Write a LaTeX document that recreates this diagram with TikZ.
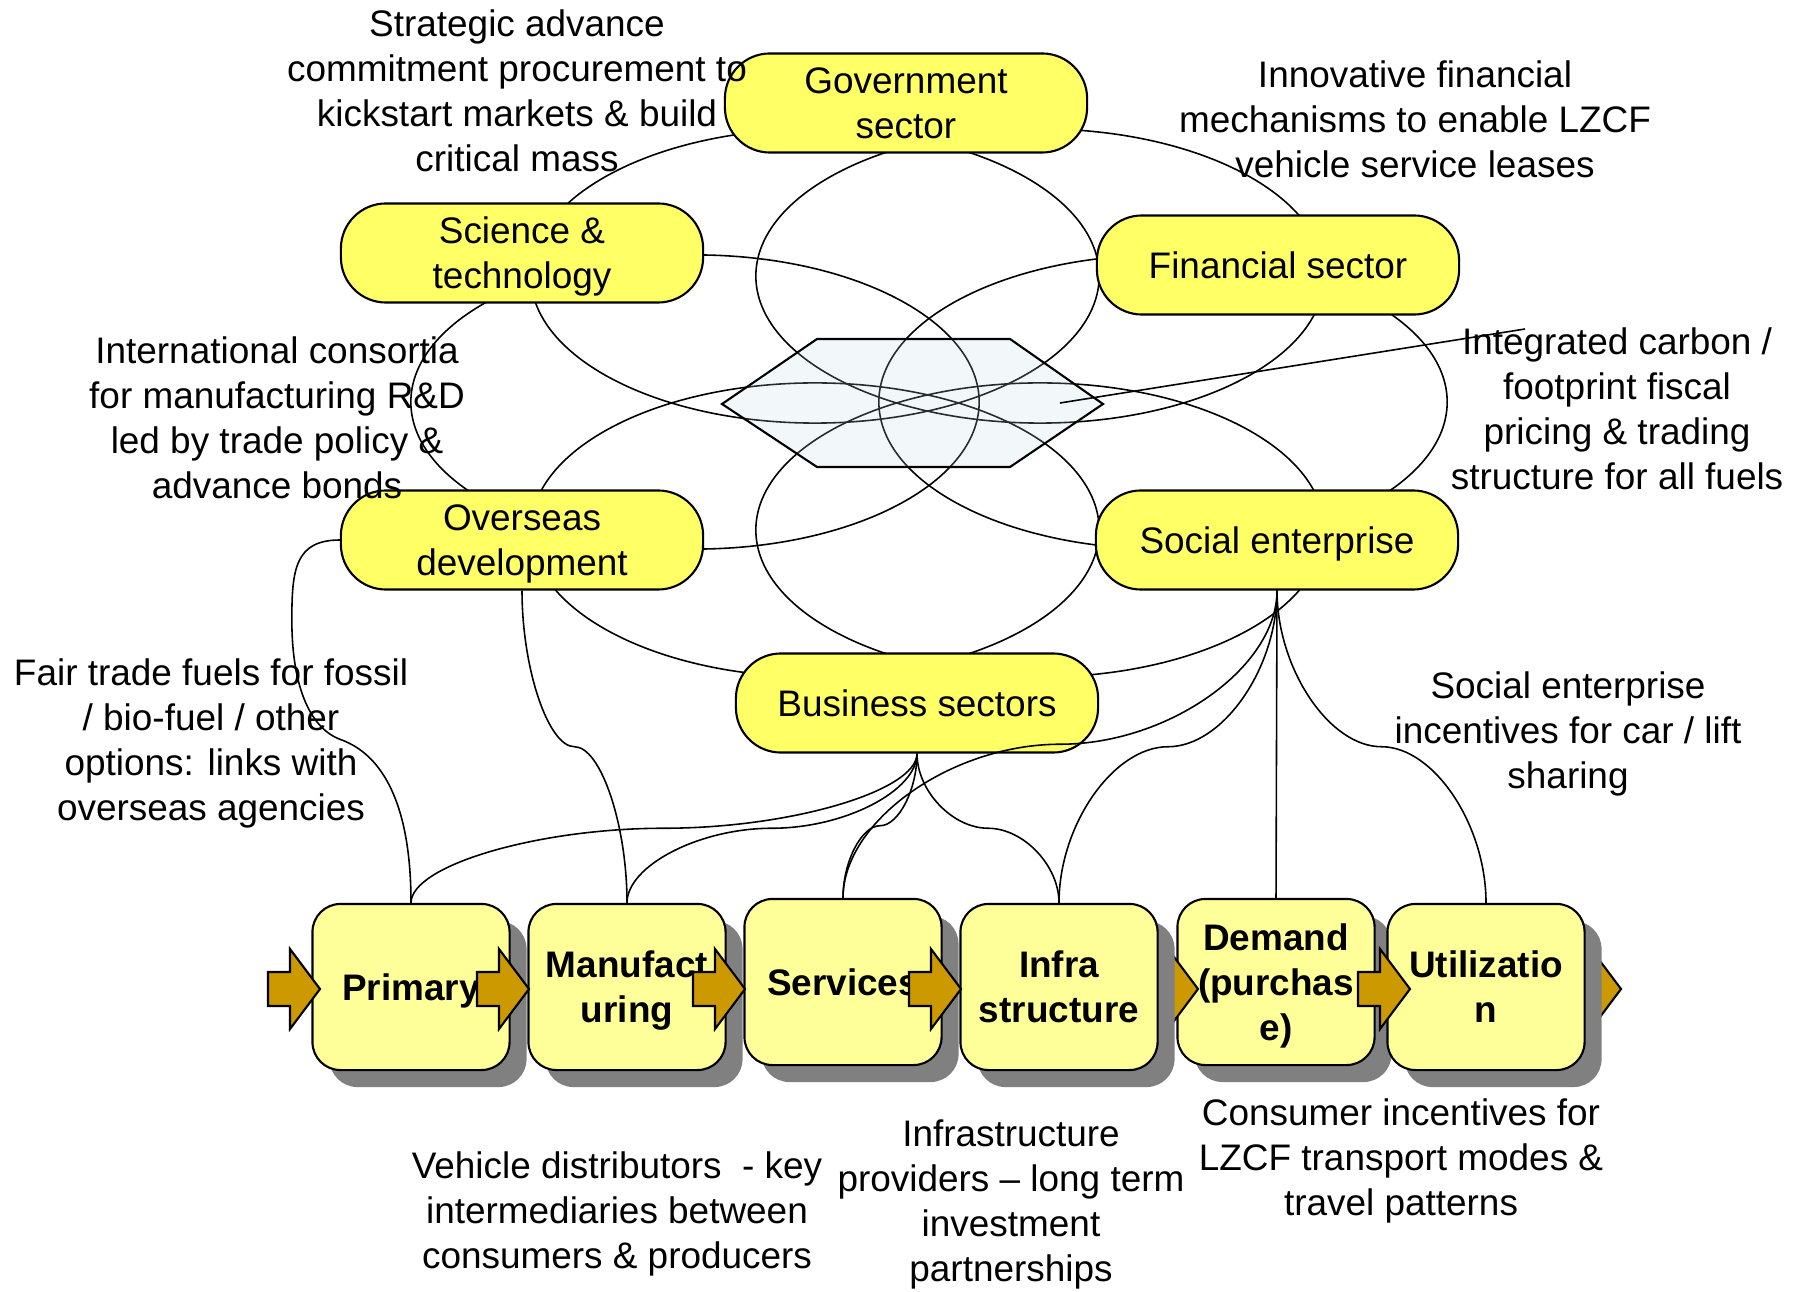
\documentclass[tikz,border=0pt]{standalone}
\usepackage{fontspec}
\setmainfont{Liberation Sans}
\usetikzlibrary{positioning,calc,shadows}
\definecolor{ovalyellow}{RGB}{255,255,102}
\definecolor{boxyellow}{RGB}{255,255,153}
\definecolor{arrowgold}{RGB}{204,153,0}
\definecolor{shadowgray}{RGB}{128,128,128}
\definecolor{hexblue}{RGB}{190,215,230}
\newcommand{\diagfont}{\fontsize{10.5}{12.8}\selectfont}
\tikzset{
sector/.style={draw, line width=0.6pt, fill=ovalyellow, rounded corners=0.45cm,
  minimum width=3.62cm, minimum height=0.99cm, align=center, inner sep=0pt, text depth=0pt},
stage/.style={draw, line width=0.6pt, fill=boxyellow, rounded corners=0.28cm,
  minimum width=1.97cm, minimum height=1.66cm, align=center, inner sep=0pt, text depth=0pt,
  font=\diagfont\bfseries,
  drop shadow={shadow xshift=0.17cm, shadow yshift=-0.17cm, fill=shadowgray, opacity=1}},
note/.style={align=center, inner sep=0pt},
petal/.style={line width=0.45pt},
link/.style={line width=0.45pt},
sconn/.style={to path={let \p1=($(\tikztostart)!0.25!(\tikztotarget)$),
  \p2=($(\tikztostart)!0.5!(\tikztotarget)$), \p3=($(\tikztostart)!0.75!(\tikztotarget)$),
  \p4=(\tikztostart), \p5=(\tikztotarget) in
  .. controls (\x4,\y1) and (\x1,\y2) .. (\x2,\y2)
  .. controls (\x3,\y2) and (\x5,\y3) .. (\x5,\y5) \tikztonodes}},
pics/flowarrow/.style={code={
  \draw[line width=0.6pt, fill=arrowgold] (-52,-17) -- (-30,-17) -- (-30,-40) -- (0,0)
    -- (-30,40) -- (-30,17) -- (-52,17) -- cycle;}},
}

\begin{document}
\begin{tikzpicture}[x=0.01cm,y=-0.01cm,font=\diagfont]
\useasboundingbox (0,0) rectangle (1798,1292);

\draw[petal] (815,276) ellipse [x radius=2.84cm, y radius=1.47cm];
\draw[petal] (1040,276) ellipse [x radius=2.84cm, y radius=1.47cm];
\draw[petal] (815,530) ellipse [x radius=2.84cm, y radius=1.47cm];
\draw[petal] (1040,530) ellipse [x radius=2.84cm, y radius=1.47cm];
\draw[petal] (695,402) ellipse [x radius=2.84cm, y radius=1.47cm];
\draw[petal] (1163,402) ellipse [x radius=2.84cm, y radius=1.47cm];

\draw[line width=0.6pt, fill=hexblue, fill opacity=0.2]
  (722,404) -- (817,339) -- (1010,339) -- (1103,404) -- (1010,467) -- (817,467) -- cycle;
\coordinate (hexpt) at (1060,403);
\coordinate (carbontip) at (1525,329);
\draw[link] (hexpt) -- (carbontip);

\node[sector] (gov) at (906,103) {Government\\sector};
\node[sector] (sci) at (522,253) {Science \&\\technology};
\node[sector] (fin) at (1278,265) {Financial sector};
\node[sector] (ovs) at (522,540) {Overseas\\development};
\node[sector] (soc) at (1277,540) {Social enterprise};
\node[sector] (bus) at (917,703) {Business sectors};

\node[note] (stratnote) at (517,91) {Strategic advance\\commitment procurement to\\kickstart markets \& build\\critical mass};
\node[note] (finnote) at (1415,119) {Innovative financial\\mechanisms to enable LZCF\\vehicle service leases};
\node[note] (consnote) at (277,418) {International consortia\\for manufacturing R\&D\\led by trade policy \&\\advance bonds};
\node[note] (carbnote) at (1617,409) {Integrated carbon /\\footprint fiscal\\pricing \& trading\\structure for all fuels};
\node[note] (fairnote) at (211,743) {Fair trade fuels for fossil\\/ bio-fuel / other\\options: links with\\overseas agencies};
\node[note] (socnote) at (1568,734) {Social enterprise\\incentives for car / lift\\sharing};
\node[note] (vehnote) at (617,1214) {Vehicle distributors\ \ - key\\intermediaries between\\consumers \& producers};
\node[note] (infranote) at (1011,1204) {Infrastructure\\providers -- long term\\investment\\partnerships};
\node[note] (usenote) at (1401,1161) {Consumer incentives for\\LZCF transport modes \&\\travel patterns};

\node[stage] (dem) at (1276,982) {Demand\\(purchas\\e)};
\pic at (1198,989) {flowarrow};
\pic at (1621,989) {flowarrow};
\node[stage] (prim) at (411,987) {Primary};
\node[stage] (manu) at (627,987) {Manufact\\uring};
\node[stage] (serv) at (843,982) {Services};
\node[stage] (infra) at (1059,987) {Infra\\structure};
\node[stage] (util) at (1486,987) {Utilizatio\\n};
\pic at (320,989) {flowarrow};
\pic at (529,989) {flowarrow};
\pic at (745,989) {flowarrow};
\pic at (961,989) {flowarrow};
\pic at (1410,989) {flowarrow};

\path[link]
(bus.south) edge[sconn] (prim.north)
(bus.south) edge[sconn] (manu.north)
(bus.south) edge[sconn] (serv.north)
(bus.south) edge[sconn] (infra.north)
(soc.south) edge[sconn] (serv.north)
(soc.south) edge[sconn] (infra.north)
(soc.south) edge (dem.north)
(soc.south) edge[sconn] (util.north)
(ovs.south) edge[sconn] (manu.north)
;
\draw[link] (ovs.west) .. controls +(-45,0) and +(0,-50) .. ++(-48,80)
  .. controls +(0,70) and +(-30,-10) .. ++(50,120)
  .. controls +(40,15) and +(0,-100) .. (prim.north);
\end{tikzpicture}
\end{document}
